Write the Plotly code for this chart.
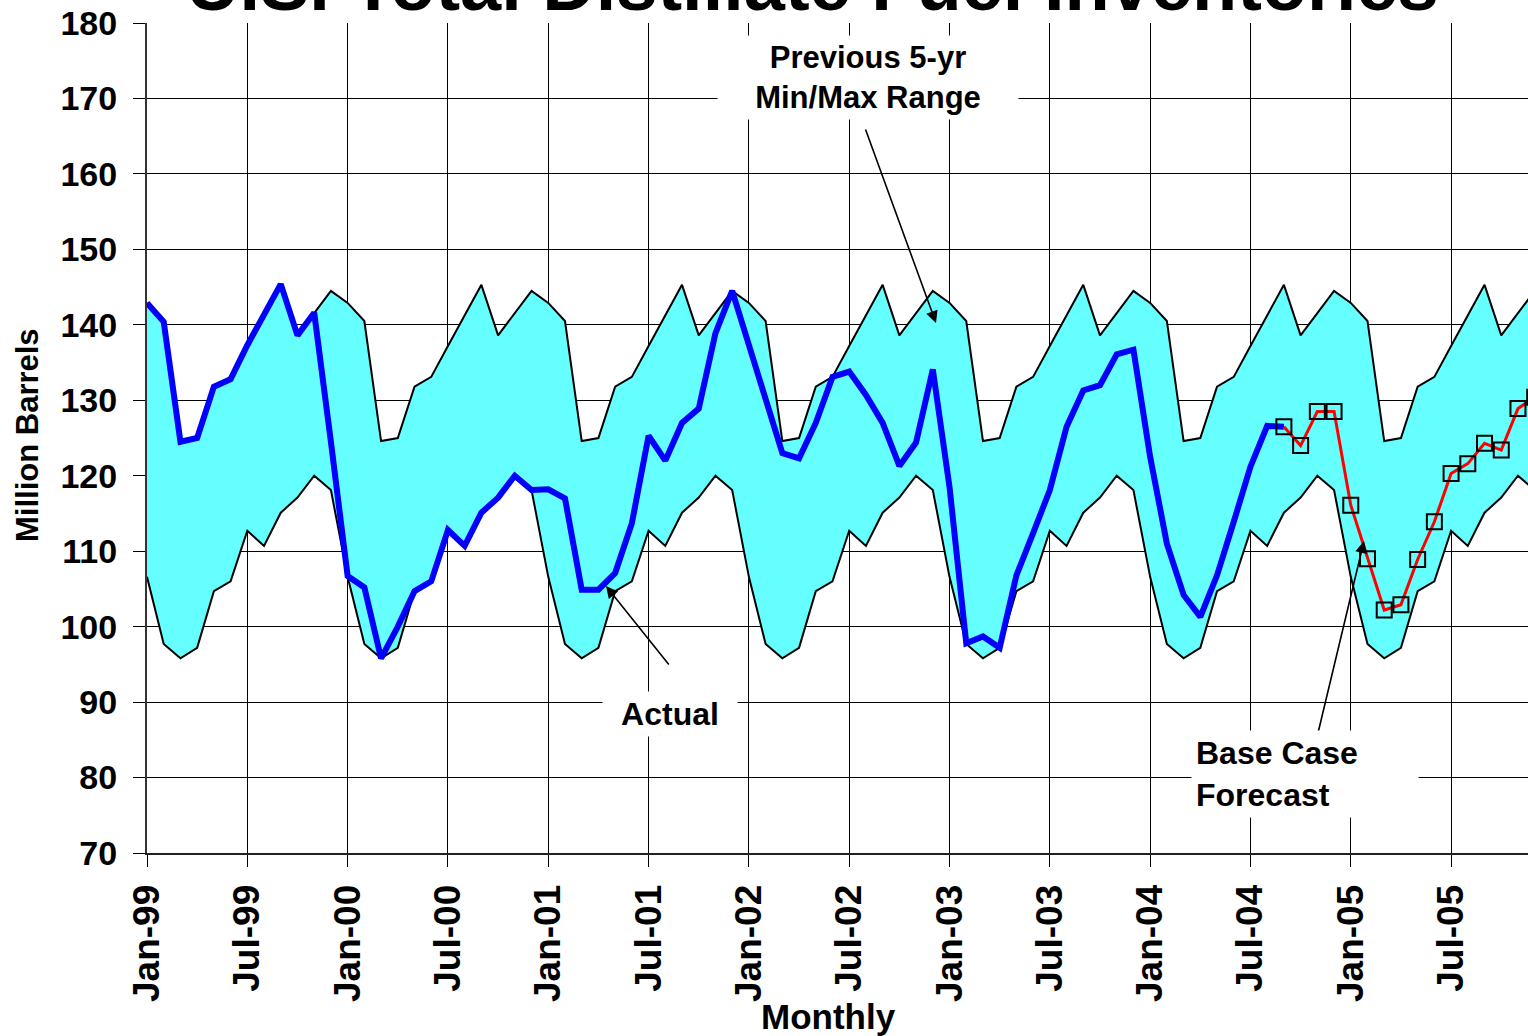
import plotly.graph_objects as go

# ---------------- data ----------------
month_names = ["Jan", "Feb", "Mar", "Apr", "May", "Jun",
               "Jul", "Aug", "Sep", "Oct", "Nov", "Dec"]
years = ["99", "00", "01", "02", "03", "04", "05"]
months = [f"{m}-{y}" for y in years for m in month_names]   # Jan-99 .. Dec-05

# Previous 5-yr min / max range (million barrels), Jan-99 .. Dec-05
band_max = [
    142.9, 140.5, 124.6, 125.0, 131.8, 133.1, 137.2, 141.2, 145.3, 138.6, 141.5, 144.5,
    142.9, 140.5, 124.6, 125.0, 131.8, 133.1, 137.2, 141.2, 145.3, 138.6, 141.5, 144.5,
    142.9, 140.5, 124.6, 125.0, 131.8, 133.1, 137.2, 141.2, 145.3, 138.6, 141.5, 144.5,
    142.9, 140.5, 124.6, 125.0, 131.8, 133.1, 137.2, 141.2, 145.3, 138.6, 141.5, 144.5,
    142.9, 140.5, 124.6, 125.0, 131.8, 133.1, 137.2, 141.2, 145.3, 138.6, 141.5, 144.5,
    142.9, 140.5, 124.6, 125.0, 131.8, 133.1, 137.2, 141.2, 145.3, 138.6, 141.5, 144.5,
    142.9, 140.5, 124.6, 125.0, 131.8, 133.1, 137.2, 141.2, 145.3, 138.6, 141.5, 144.5,
]
band_min = [
    106.6, 97.7, 95.8, 97.2, 104.7, 106.0, 112.7, 110.7, 115.1, 117.1, 120.0, 118.1,
    106.6, 97.7, 95.8, 97.2, 104.7, 106.0, 112.7, 110.7, 115.1, 117.1, 120.0, 118.1,
    106.6, 97.7, 95.8, 97.2, 104.7, 106.0, 112.7, 110.7, 115.1, 117.1, 120.0, 118.1,
    106.6, 97.7, 95.8, 97.2, 104.7, 106.0, 112.7, 110.7, 115.1, 117.1, 120.0, 118.1,
    106.6, 97.7, 95.8, 97.2, 104.7, 106.0, 112.7, 110.7, 115.1, 117.1, 120.0, 118.1,
    106.6, 97.7, 95.8, 97.2, 104.7, 106.0, 112.7, 110.7, 115.1, 117.1, 120.0, 118.1,
    106.6, 97.7, 95.8, 97.2, 104.7, 106.0, 112.7, 110.7, 115.1, 117.1, 120.0, 118.1,
]

# Actual inventories, Jan-99 .. Sep-04
actual = [
    142.9, 140.4, 124.5, 125.0, 131.8, 132.8, 137.3, 141.4, 145.4, 138.6, 141.6, 124.5,
    106.7, 105.2, 95.8, 100.0, 104.7, 106.0, 112.8, 110.7, 115.1, 117.1, 120.0, 118.1,
    118.2, 117.0, 104.9, 104.9, 107.1, 113.7, 125.3, 122.0, 127.0, 128.9, 138.9, 144.5,
    137.2, 130.0, 123.0, 122.3, 127.0, 133.1, 133.8, 130.7, 127.0, 121.3, 124.4, 134.1,
    118.5, 97.8, 98.7, 97.2, 106.8, 112.4, 118.1, 126.5, 131.3, 132.0, 136.1, 136.7,
    122.5, 111.0, 104.2, 101.3, 106.8, 113.9, 121.2, 126.6, 126.5,
]
actual_months = months[:len(actual)]

# Base case forecast, Sep-04 .. Dec-05
forecast = [126.5, 124.0, 128.5, 128.5, 116.1, 109.0, 102.2, 102.9,
            108.9, 113.9, 120.3, 121.6, 124.3, 123.4, 128.9, 130.4]
forecast_months = months[len(actual) - 1:len(actual) - 1 + len(forecast)]

y_ticks = list(range(70, 181, 10))
x_ticks = months[::6]

# ---------------- figure ----------------
W, H = 1528, 1036
L, R, T, B = 147, 0, 23, 183
PW, PH = W - L - R, H - T - B
FONT = "Liberation Sans, Arial, sans-serif"


def xp(px):
    return (px - L) / PW


def yp(py):
    return (H - B - py) / PH


fig = go.Figure()
fig.add_trace(go.Scatter(x=months, y=band_min, mode="lines",
                         line=dict(color="black", width=2), hoverinfo="skip"))
fig.add_trace(go.Scatter(x=months, y=band_max, mode="lines", fill="tonexty",
                         fillcolor="#66FFFF",
                         line=dict(color="black", width=2), hoverinfo="skip"))
fig.add_trace(go.Scatter(x=actual_months, y=actual, mode="lines",
                         line=dict(color="#0000FF", width=6)))
fig.add_trace(go.Scatter(x=forecast_months, y=forecast, mode="lines+markers",
                         line=dict(color="#FF0000", width=3),
                         marker=dict(symbol="square-open", size=15, color="black",
                                     line=dict(width=2))))

bold = dict(family=FONT, color="black", weight="bold")

fig.update_layout(
    width=W, height=H,
    margin=dict(l=L, r=R, t=T, b=B, pad=0),
    paper_bgcolor="white", plot_bgcolor="white",
    showlegend=False,
    xaxis=dict(type="category", range=[0, 82.6], tickmode="array",
               tickvals=x_ticks, ticktext=x_ticks, tickangle=-90,
               ticks="outside", ticklen=12, tickwidth=1, tickcolor="black",
               ticklabelstandoff=3,
               showgrid=True, gridcolor="black", gridwidth=1,
               showline=True, linecolor="#222", linewidth=2,
               tickfont=dict(size=37, **bold), automargin=False),
    yaxis=dict(range=[70, 180], tickmode="array", tickvals=y_ticks,
               ticks="outside", ticklen=12, tickwidth=1, tickcolor="black",
               ticklabelstandoff=9,
               showgrid=True, gridcolor="black", gridwidth=1,
               showline=True, linecolor="#333", linewidth=2, zeroline=False,
               tickfont=dict(size=34, **bold), automargin=False),
)

ann = []
# arrows
ann.append(dict(xref="paper", yref="paper", x=xp(936), y=yp(323), text="",
                showarrow=True, ax=-71, ay=-195, arrowhead=2, arrowsize=1.5,
                arrowwidth=1.6, arrowcolor="black", standoff=0))
ann.append(dict(xref="paper", yref="paper", x=xp(606), y=yp(586), text="",
                showarrow=True, ax=64, ay=80, arrowhead=2, arrowsize=1.5,
                arrowwidth=1.6, arrowcolor="black", standoff=0))
ann.append(dict(xref="paper", yref="paper", x=xp(1364), y=yp(541), text="",
                showarrow=True, ax=-46, ay=192, arrowhead=2, arrowsize=1.5,
                arrowwidth=1.6, arrowcolor="black", standoff=0))
# labels
ann.append(dict(xref="paper", yref="paper", x=xp(868), y=yp(77),
                text="Previous 5-yr<br>Min/Max Range", showarrow=False,
                font=dict(size=31, **bold), bgcolor="white", borderpad=4,
                width=292, align="center", xanchor="center", yanchor="middle"))
ann.append(dict(xref="paper", yref="paper", x=xp(670), y=yp(714),
                text="Actual", showarrow=False,
                font=dict(size=32, **bold), bgcolor="white", borderpad=4,
                width=126, align="center", xanchor="center", yanchor="middle"))
ann.append(dict(xref="paper", yref="paper", x=xp(1305), y=yp(774),
                text="Base Case<br>Forecast", showarrow=False,
                font=dict(size=32, **bold), bgcolor="white", borderpad=4,
                width=218, align="left", xanchor="center", yanchor="middle"))
# title (partly cut off at top, as in the reference)
ann.append(dict(xref="paper", yref="paper", x=xp(812), y=yp(-15.6),
                text="U.S. Total Distillate Fuel Inventories", showarrow=False,
                font=dict(size=74, **bold), xanchor="center", yanchor="middle"))
# axis titles
ann.append(dict(xref="paper", yref="paper", x=xp(27), y=yp(435),
                text="Million Barrels", showarrow=False, textangle=-90,
                font=dict(size=31, **bold), xanchor="center", yanchor="middle"))
ann.append(dict(xref="paper", yref="paper", x=xp(828), y=yp(1017),
                text="Monthly", showarrow=False,
                font=dict(size=35, **bold), xanchor="center", yanchor="middle"))
fig.update_layout(annotations=ann)

fig.write_html("out.html",
               config={"displayModeBar": False},
               post_script="document.body.style.margin='0px';"
                           "document.body.style.padding='0px';")
